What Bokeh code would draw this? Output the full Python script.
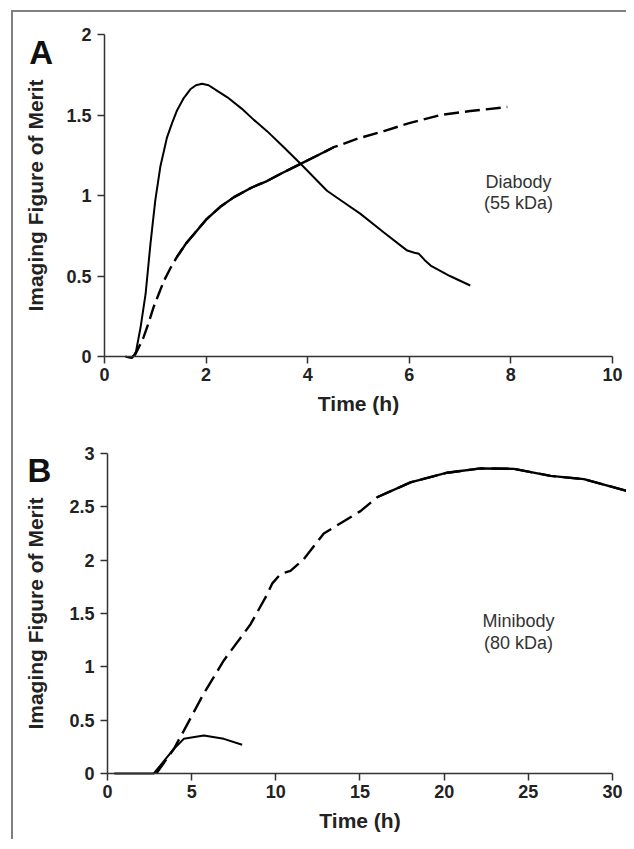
from bokeh.plotting import figure
from bokeh.layouts import column
from bokeh.models import Range1d, Label, FixedTicker
from bokeh.embed import file_html
from bokeh.resources import INLINE

# ---- Panel A: Diabody (55 kDa) ----
a_solid_t = [0.41, 0.48, 0.545, 0.62, 0.71, 0.81, 0.905, 1.0, 1.10, 1.23, 1.33, 1.43, 1.55,
             1.69, 1.8, 1.92, 2.05, 2.22, 2.42, 2.7, 2.94, 3.2, 3.53, 3.86, 4.38, 4.7, 5.04,
             5.5, 5.96, 6.1, 6.19, 6.3, 6.42, 6.8, 7.2]
a_solid_y = [0.0, -0.006, -0.01, 0.03, 0.18, 0.39, 0.70, 0.97, 1.18, 1.36, 1.45, 1.53, 1.60,
             1.66, 1.685, 1.694, 1.685, 1.65, 1.61, 1.54, 1.47, 1.40, 1.30, 1.197, 1.03, 0.96,
             0.886, 0.77, 0.658, 0.645, 0.638, 0.60, 0.565, 0.50, 0.441]
a_dash_t = [0.55, 0.6, 0.68, 0.77, 0.87, 0.97, 1.07, 1.17, 1.3, 1.43, 1.6, 1.76, 2.0, 2.28,
            2.55, 2.9, 3.2, 3.5, 3.86, 4.2, 4.51, 5.0, 5.5, 6.0, 6.61, 7.2, 7.93]
a_dash_y = [0.0, 0.01, 0.06, 0.12, 0.21, 0.31, 0.39, 0.47, 0.55, 0.62, 0.70, 0.76, 0.85, 0.93,
            0.99, 1.05, 1.09, 1.14, 1.197, 1.25, 1.30, 1.355, 1.40, 1.45, 1.50, 1.525, 1.55]
a_dash_solid_span = (1.43, 4.51)
a_xticks = [0, 2, 4, 6, 8, 10]
a_yticks = [0, 0.5, 1, 1.5, 2]

# ---- Panel B: Minibody (80 kDa) ----
b_solid_t = [0.4, 2.75, 3.94, 4.53, 5.72, 6.91, 8.0]
b_solid_y = [0.0, 0.0, 0.23, 0.325, 0.356, 0.325, 0.27]
b_dash_t = [2.9, 3.94, 4.53, 5.72, 6.91, 8.5, 9.49, 9.78, 10.28, 10.87, 11.66, 12.85, 15.03,
            16.02, 18.0, 20.18, 22.16, 24.14, 26.32, 28.3, 31.07]
b_dash_y = [0.0, 0.23, 0.40, 0.75, 1.06, 1.40, 1.68, 1.78, 1.87, 1.90, 2.01, 2.25, 2.46,
            2.59, 2.73, 2.82, 2.86, 2.856, 2.79, 2.76, 2.64]
b_dash_solid_span = (16.02, 31.07)
b_xticks = [0, 5, 10, 15, 20, 25, 30]
b_yticks = [0, 0.5, 1, 1.5, 2, 2.5, 3]

FONT = "Liberation Sans"
AX = "#333333"


def make_panel(width, height, xr, yr, xticks, yticks, xbounds, ybounds):
    # the frame fills the whole canvas; the axes are drawn at x=0 / y=0
    p = figure(width=width, height=height, output_backend="svg", toolbar_location=None,
               x_range=Range1d(*xr), y_range=Range1d(*yr),
               min_border_left=0, min_border_right=0, min_border_top=0, min_border_bottom=0)
    p.outline_line_color = None
    p.xgrid.visible = False
    p.ygrid.visible = False
    p.background_fill_color = "white"
    p.border_fill_color = "white"
    for ax, ticks, b in ((p.xaxis[0], xticks, xbounds), (p.yaxis[0], yticks, ybounds)):
        ax.ticker = FixedTicker(ticks=ticks)
        ax.bounds = b
        ax.fixed_location = 0
        ax.axis_line_color = AX
        ax.axis_line_width = 1.5
        ax.major_tick_line_color = AX
        ax.major_tick_line_width = 1.5
        ax.major_tick_out = 7
        ax.major_tick_in = 0
        ax.minor_tick_line_color = None
        ax.major_label_text_font = FONT
        ax.major_label_text_font_style = "bold"
        ax.major_label_text_font_size = "18px"
        ax.major_label_text_color = "#222222"
        ax.axis_label_text_font = FONT
        ax.axis_label_text_font_style = "bold"
        ax.axis_label_text_font_size = "21px"
        ax.axis_label_text_color = "#222222"
    p.xaxis.axis_label = "Time (h)"
    p.yaxis.axis_label = "Imaging Figure of Merit"
    p.xaxis.major_label_standoff = 4
    p.yaxis.major_label_standoff = 6
    p.xaxis.axis_label_standoff = 8
    p.yaxis.axis_label_standoff = 16
    return p


def draw(p, st, sy, dt, dy, span, dash):
    p.line(st, sy, line_color="black", line_width=2)
    p.line(dt, dy, line_color="black", line_width=2.4, line_dash=dash)
    seg_t = [t for t in dt if span[0] <= t <= span[1]]
    seg_y = [y for t, y in zip(dt, dy) if span[0] <= t <= span[1]]
    p.line(seg_t, seg_y, line_color="black", line_width=2.4)


# Panel A
pA = make_panel(613, 413, (-1.791, 10.276), (-0.4286, 2.137), a_xticks, a_yticks,
                (0, 10), (0, 2))
draw(pA, a_solid_t, a_solid_y, a_dash_t, a_dash_y, a_dash_solid_span, "15 6")
pA.add_layout(Label(x=-1.48, y=1.89, text="A", text_font=FONT, text_font_style="bold",
                    text_baseline="alphabetic", text_font_size="33px", text_color="#111111"))
pA.add_layout(Label(x=8.15, y=1.02, text="Diabody", text_font=FONT, text_font_size="18px",
                    text_color="#333333", text_align="center"))
pA.add_layout(Label(x=8.15, y=0.89, text="(55 kDa)", text_font=FONT, text_font_size="18px",
                    text_color="#333333", text_align="center"))

# Panel B
pB = make_panel(613, 414, (-5.584, 30.832), (-0.6187, 3.2625), b_xticks, b_yticks,
                (0, 30), (0, 3))
pB.yaxis.axis_label_standoff = 19
draw(pB, b_solid_t, b_solid_y, b_dash_t, b_dash_y, b_dash_solid_span, "17 7")
pB.add_layout(Label(x=-4.75, y=2.84, text="B", text_font=FONT, text_font_style="bold",
                    text_baseline="alphabetic", text_font_size="33px", text_color="#111111"))
pB.add_layout(Label(x=24.42, y=1.34, text="Minibody", text_font=FONT, text_font_size="18px",
                    text_color="#333333", text_align="center"))
pB.add_layout(Label(x=24.42, y=1.13, text="(80 kDa)", text_font=FONT, text_font_size="18px",
                    text_color="#333333", text_align="center"))

layout = column(column(pA), column(pB), margin=(10, 0, 0, 11), spacing=0,
                styles={"border-left": "2px solid #808080", "border-top": "2px solid #808080",
                        "background-color": "white"})

open("out.html", "w").write(file_html(layout, INLINE))
